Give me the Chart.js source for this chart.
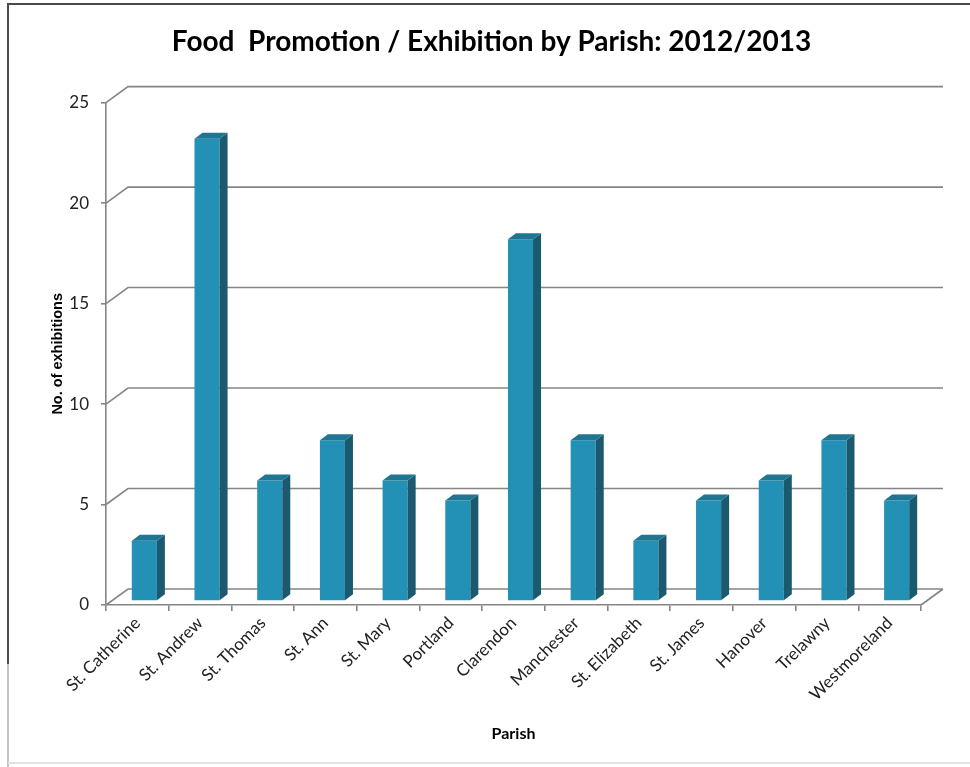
<!DOCTYPE html>
<html>
<head>
<meta charset="utf-8">
<title>Food Promotion / Exhibition by Parish</title>
<script src="https://cdn.jsdelivr.net/npm/chart.js@4.4.1/dist/chart.umd.min.js"></script>
<style>
  html, body { margin: 0; padding: 0; background: #fff; overflow: hidden; }
  canvas { display: block; }
</style>
</head>
<body>
<canvas id="myChart" width="970" height="767"></canvas>
<script>
const parishes = ['St. Catherine', 'St. Andrew', 'St. Thomas', 'St. Ann', 'St. Mary', 'Portland',
    'Clarendon', 'Manchester', 'St. Elizabeth', 'St. James', 'Hanover', 'Trelawny', 'Westmoreland'];
const exhibitions = [3, 23, 6, 8, 6, 5, 18, 8, 3, 5, 6, 8, 5];
const yTicks = [0, 5, 10, 15, 20, 25];

// 3d look: back wall offset, how far back the bars stand, and bar depth
const wallDepth = { x: 22, y: -16 };
const barShift = { x: 7, y: -4 };
const barDepth = { x: 8, y: -6 };
const gridColor = '#858585';
const frontColor = '#2391b5';
const sideColor = '#1b5a6e';
const topColor = '#1f7592';

Chart.defaults.font.family = 'Lato';

const paperPlugin = {
    id: 'paper',
    beforeDraw(chart) {
        const ctx = chart.ctx;
        ctx.save();
        ctx.fillStyle = '#fff';
        ctx.fillRect(0, 0, chart.width, chart.height);
        ctx.lineWidth = 2;
        ctx.strokeStyle = '#4a4a4a';
        ctx.beginPath();
        ctx.moveTo(7, 4);
        ctx.lineTo(chart.width, 4);
        ctx.moveTo(8, 4);
        ctx.lineTo(8, 664);
        ctx.stroke();
        ctx.strokeStyle = '#c4c4c4';
        ctx.beginPath();
        ctx.moveTo(8, 664);
        ctx.lineTo(8, chart.height);
        ctx.stroke();
        ctx.strokeStyle = '#e2e2e2';
        ctx.beginPath();
        ctx.moveTo(8, 763);
        ctx.lineTo(chart.width, 763);
        ctx.stroke();
        ctx.restore();
    }
};

const wallsPlugin = {
    id: 'walls',
    beforeDatasetsDraw(chart) {
        const { ctx, chartArea: a, scales: { y } } = chart;
        ctx.save();
        ctx.strokeStyle = gridColor;
        ctx.lineWidth = 1.6;
        ctx.beginPath();
        yTicks.forEach(v => {
            const py = y.getPixelForValue(v);
            ctx.moveTo(a.left, py);
            ctx.lineTo(a.left + wallDepth.x, py + wallDepth.y);
            ctx.lineTo(a.right + wallDepth.x, py + wallDepth.y);
        });
        // right edge of the floor
        ctx.moveTo(a.right, a.bottom);
        ctx.lineTo(a.right + wallDepth.x, a.bottom + wallDepth.y);
        ctx.stroke();
        ctx.restore();
        // bars stand a little way back on the floor
        ctx.save();
        ctx.translate(barShift.x, barShift.y);
    },
    afterDatasetsDraw(chart) {
        const ctx = chart.ctx;
        chart.getDatasetMeta(0).data.forEach(bar => {
            const { x, y, base, width } = bar.getProps(['x', 'y', 'base', 'width'], true);
            const l = x - width / 2;
            const r = x + width / 2;
            ctx.fillStyle = sideColor;
            ctx.beginPath();
            ctx.moveTo(r, y);
            ctx.lineTo(r + barDepth.x, y + barDepth.y);
            ctx.lineTo(r + barDepth.x, base + barDepth.y);
            ctx.lineTo(r, base);
            ctx.closePath();
            ctx.fill();
            ctx.fillStyle = topColor;
            ctx.beginPath();
            ctx.moveTo(l, y);
            ctx.lineTo(l + barDepth.x, y + barDepth.y);
            ctx.lineTo(r + barDepth.x, y + barDepth.y);
            ctx.lineTo(r, y);
            ctx.closePath();
            ctx.fill();
        });
        ctx.restore();
    }
};

const ctx = document.querySelector('#myChart').getContext('2d');
const config = {
    type: 'bar',
    data: {
        labels: parishes,
        datasets: [{
            label: 'No. of exhibitions',
            data: exhibitions,
            backgroundColor: frontColor,
            borderWidth: 0,
            categoryPercentage: 0.8,
            barPercentage: 0.5
        }]
    },
    options: {
        responsive: false,
        animation: false,
        layout: {
            padding: { left: 62, right: 49, top: 2, bottom: 0 }
        },
        plugins: {
            legend: { display: false },
            tooltip: { enabled: false },
            title: {
                display: true,
                text: 'Food  Promotion / Exhibition by Parish: 2012/2013',
                color: '#000',
                font: { size: 28, weight: 'bold' },
                padding: { top: 23, bottom: 44 }
            }
        },
        scales: {
            x: {
                grid: {
                    drawOnChartArea: false,
                    tickLength: 6,
                    color: gridColor,
                    lineWidth: 1.6
                },
                border: { color: gridColor, width: 1.6 },
                ticks: {
                    autoSkip: false,
                    minRotation: 45,
                    maxRotation: 45,
                    color: '#222',
                    font: { size: 17 },
                    padding: 2
                },
                title: {
                    display: true,
                    text: 'Parish',
                    color: '#000',
                    font: { size: 16, weight: 'bold' },
                    padding: { top: 0, bottom: 24 }
                },
                afterFit(scale) { scale.height = 162; }
            },
            y: {
                min: 0,
                max: 25,
                ticks: {
                    stepSize: 5,
                    color: '#222',
                    font: { size: 17 },
                    padding: 12
                },
                grid: {
                    drawOnChartArea: false,
                    tickLength: 5,
                    color: gridColor,
                    lineWidth: 1.6
                },
                border: { color: gridColor, width: 1.6 },
                title: {
                    display: true,
                    text: 'No. of exhibitions',
                    color: '#000',
                    font: { family: 'Liberation Sans', size: 14.5, weight: 'bold' },
                    padding: { top: -13, bottom: 0 }
                },
                afterFit(scale) { scale.width = 44; }
            }
        }
    },
    plugins: [paperPlugin, wallsPlugin]
};
new Chart(ctx, config);
</script>
</body>
</html>
